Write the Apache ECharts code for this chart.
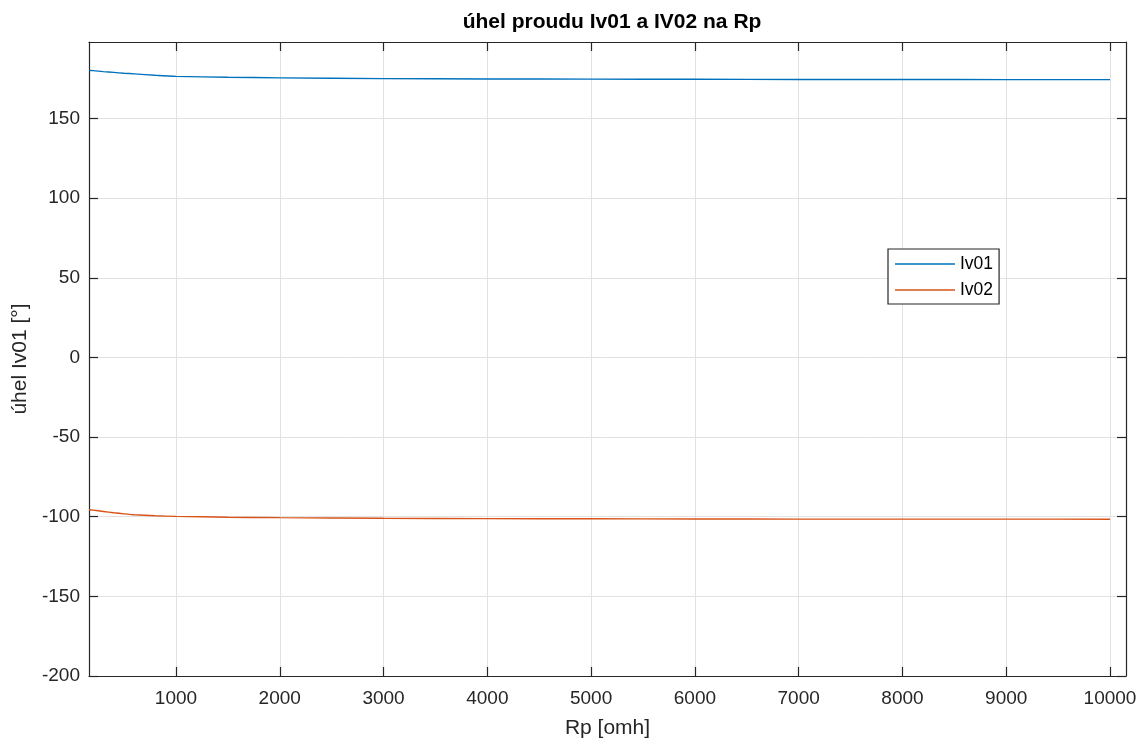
<!DOCTYPE html>
<html>
<head>
<meta charset="utf-8">
<script src="https://cdn.jsdelivr.net/npm/echarts@6/dist/echarts.min.js"></script>
<style>html,body{margin:0;padding:0;background:#fff}#c{width:1140px;height:744px}</style>
</head>
<body>
<div id="c"></div>
<script>
const rp = [162, 200, 300, 400, 500, 600, 800, 1000, 1500, 2000, 3000, 4000, 5000, 6000, 7000, 8000, 9000, 10000];
const iv01 = [180.2, 180.0, 179.4, 178.9, 178.4, 178.0, 177.1, 176.4, 175.9, 175.5, 175.0, 174.8, 174.7, 174.6, 174.5, 174.5, 174.4, 174.4];
const iv02 = [-95.6, -95.9, -96.7, -97.5, -98.2, -98.8, -99.4, -99.8, -100.3, -100.6, -101.0, -101.2, -101.3, -101.4, -101.5, -101.5, -101.5, -101.6];
const xTicks = [1000, 2000, 3000, 4000, 5000, 6000, 7000, 8000, 9000, 10000];
const yTicks = [-200, -150, -100, -50, 0, 50, 100, 150];
const xRange = [162, 10154];
const yRange = [-200, 198];
const names = ['Iv01', 'Iv02'];

const FONT = '"Liberation Sans", Arial, sans-serif';
const axisColor = '#262626';
const gridColor = '#e2e2e2';
const chart = echarts.init(document.getElementById('c'));

function xAxisDef(pos, primary) {
  return {
    type: 'value', position: pos, min: xRange[0], max: xRange[1],
    name: primary ? 'Rp [omh]' : '', nameLocation: 'middle', nameGap: 42,
    nameTextStyle: { fontFamily: FONT, fontSize: 21, color: axisColor },
    axisLine: { show: true, onZero: false, lineStyle: { color: axisColor, width: 1.2 } },
    axisTick: { show: true, inside: true, length: 9, customValues: xTicks, lineStyle: { color: axisColor, width: 1.2 } },
    axisLabel: { show: primary, customValues: xTicks, margin: 13, fontFamily: FONT, fontSize: 19, color: axisColor, formatter: v => String(v) },
    splitLine: { show: primary, lineStyle: { color: gridColor, width: 1 } }
  };
}
function yAxisDef(pos, primary) {
  return {
    type: 'value', position: pos, min: yRange[0], max: yRange[1],
    name: primary ? 'úhel Iv01 [°]' : '', nameLocation: 'middle', nameGap: 57,
    nameTextStyle: { fontFamily: FONT, fontSize: 21, color: axisColor },
    axisLine: { show: true, onZero: false, lineStyle: { color: axisColor, width: 1.2 } },
    axisTick: { show: true, inside: true, length: 9, customValues: yTicks, lineStyle: { color: axisColor, width: 1.2 } },
    axisLabel: { show: primary, customValues: yTicks, margin: 9, fontFamily: FONT, fontSize: 19, color: axisColor, formatter: v => String(v) },
    splitLine: { show: primary, lineStyle: { color: gridColor, width: 1 } }
  };
}

chart.setOption({
  animation: false,
  backgroundColor: '#fff',
  title: {
    text: 'úhel proudu Iv01 a IV02 na Rp',
    left: 607, textAlign: 'center', top: 7,
    textStyle: { fontFamily: FONT, fontSize: 21, fontWeight: 'bold', color: '#000' }
  },
  grid: { left: 89, right: 14, top: 42, bottom: 65, containLabel: false },
  legend: {
    data: names.map(n => ({ name: n, icon: 'rect' })), orient: 'vertical', left: 888, top: 249,
    padding: [6, 6, 5, 7], itemGap: 8, itemWidth: 60, itemHeight: 1.5,
    backgroundColor: '#fff', borderColor: axisColor, borderWidth: 1.2,
    textStyle: { fontFamily: FONT, fontSize: 17.5, color: '#000', lineHeight: 18 }
  },
  xAxis: [xAxisDef('bottom', true), xAxisDef('top', false)],
  yAxis: [yAxisDef('left', true), yAxisDef('right', false)],
  series: [
    { name: names[0], type: 'line', data: rp.map((x, i) => [x, iv01[i]]), smooth: 0.2, symbol: 'none', color: '#0072BD', lineStyle: { width: 1.4 } },
    { name: names[1], type: 'line', data: rp.map((x, i) => [x, iv02[i]]), smooth: 0.2, symbol: 'none', color: '#D95319', lineStyle: { width: 1.4 } }
  ]
});
</script>
</body>
</html>
